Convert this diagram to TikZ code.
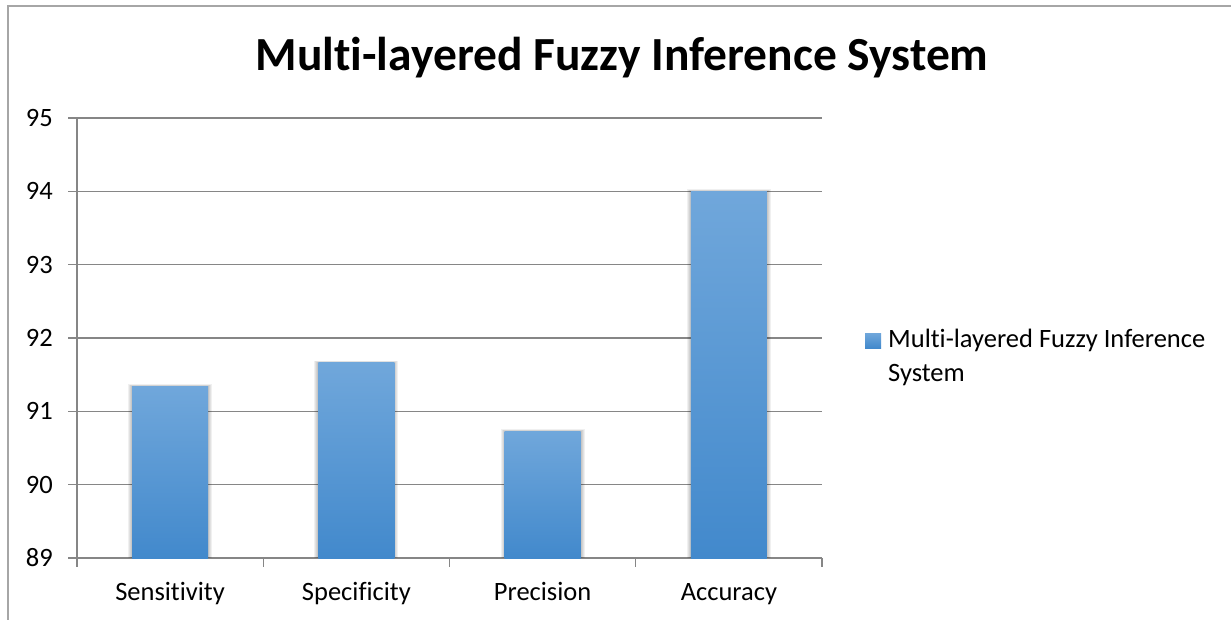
\documentclass[tikz,border=0pt]{standalone}
\usepackage{fontspec}
\setmainfont{Carlito}[Ligatures=NoCommon]
\definecolor{gridc}{RGB}{134,134,134}
\definecolor{framec}{RGB}{166,166,166}
\definecolor{bartop}{RGB}{112,167,219}
\definecolor{barbot}{RGB}{66,137,204}
\begin{document}
\begin{tikzpicture}[x=1pt,y=-1pt,
  grid/.style={draw=gridc,line width=1.3pt},
  lbl/.style={font=\fontsize{26.5}{30}\selectfont,inner sep=0pt},
  barshade/.style={top color=bartop,bottom color=barbot},
  shadowc/.style={fill=black,opacity=0.06}]
\useasboundingbox (0,0) rectangle (1231,620);
\fill[white] (0,0) rectangle (1231,620);
% frame
\draw[framec,line width=1.3pt] (8,620) -- (8,6) -- (1231,6);
% title
\node[font=\fontsize{47.5}{52}\selectfont\bfseries,inner sep=0pt,anchor=base] (title) at (622,71) {Multi-layered Fuzzy Inference System};
% gridlines and y labels
\foreach \v [count=\i] in {89,90,91,92,93,94,95}{
  \pgfmathsetmacro{\yy}{558-(\v-89)*73.33}
  \draw[grid] (68,\yy) -- (822,\yy);
  \node[lbl,anchor=east] (y\i) at (53,\yy) {\v};
}
% axes
\draw[grid] (77,118) -- (77,567);
\foreach \xx in {263.25,449.5,635.75,822}{
  \draw[grid] (\xx,558) -- (\xx,567);
}
% bars
\foreach \c/\val [count=\i] in {170.1/91.34, 356.4/91.66, 542.6/90.73, 728.9/94.0}{
  \pgfmathsetmacro{\yt}{558-(\val-89)*73.33}
  \foreach \d in {1,2,3,4}{
    \fill[shadowc] (\c-38-\d,\yt-\d*0.5) rectangle (\c+38+\d,558);
  }
  \shade[barshade] (\c-38,\yt) rectangle (\c+38,558);
}
% category labels
\node[lbl,anchor=base] (c1) at (170.1,600) {Sensitivity};
\node[lbl,anchor=base] (c2) at (356.4,600) {Specificity};
\node[lbl,anchor=base] (c3) at (542.6,600) {Precision};
\node[lbl,anchor=base] (c4) at (728.9,600) {Accuracy};
% legend
\shade[barshade] (865,333) rectangle (881,348);
\node[lbl,anchor=base west] (leg1) at (888,347) {Multi-layered Fuzzy Inference};
\node[lbl,anchor=base west] (leg2) at (888,381) {System};
\end{tikzpicture}
\end{document}
